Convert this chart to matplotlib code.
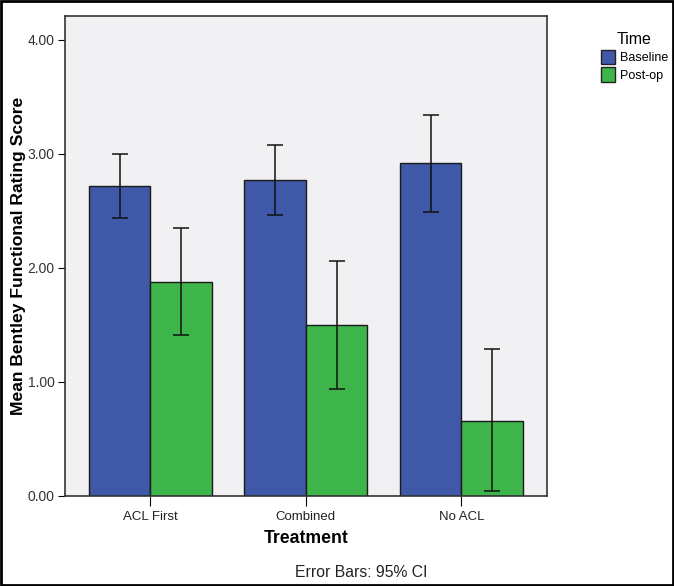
import numpy as np
import matplotlib.pyplot as plt
from matplotlib.patches import Patch, Rectangle

plt.rcParams['font.family'] = ['Liberation Sans', 'DejaVu Sans']

treatments = ["ACL First", "Combined", "No ACL"]
baseline = [2.72, 2.77, 2.92]
baseline_lo = [2.44, 2.46, 2.49]
baseline_hi = [3.00, 3.08, 3.34]
postop = [1.88, 1.50, 0.66]
postop_lo = [1.41, 0.94, 0.04]
postop_hi = [2.35, 2.06, 1.29]

blue = "#3f58a7"
green = "#3db54a"

fig = plt.figure(figsize=(6.74, 5.86), dpi=100)
ax = fig.add_axes([0.0957, 0.1536, 0.7159, 0.8196])
ax.set_facecolor("#f1f1f3")

x = np.arange(len(treatments))
w = 0.395
bl = np.array(baseline)
po = np.array(postop)
ax.bar(x - w / 2, bl, w, color=blue, edgecolor="#1a1a1a", linewidth=1, zorder=2)
ax.bar(x + w / 2, po, w, color=green, edgecolor="#1a1a1a", linewidth=1, zorder=2)
ax.errorbar(x - w / 2, bl, yerr=[bl - np.array(baseline_lo), np.array(baseline_hi) - bl],
            fmt="none", ecolor="#111111", elinewidth=1.1, capsize=5.5, capthick=1.1, zorder=3)
ax.errorbar(x + w / 2, po, yerr=[po - np.array(postop_lo), np.array(postop_hi) - po],
            fmt="none", ecolor="#111111", elinewidth=1.1, capsize=5.5, capthick=1.1, zorder=3)

ax.set_xlim(-0.552, 2.55)
ax.set_ylim(0, 4.21)
ax.set_yticks([0, 1, 2, 3, 4])
ax.set_yticklabels(["0.00", "1.00", "2.00", "3.00", "4.00"], fontsize=10, color="#333333")
ax.set_xticks(x)
ax.set_xticklabels(treatments, fontsize=9.5, color="#222222")
ax.tick_params(axis="y", length=5, width=0.8, pad=2)
ax.tick_params(axis="x", length=7, width=0.8)
for s in ax.spines.values():
    s.set_color("#333333")
    s.set_linewidth(1.2)

ax.set_ylabel("Mean Bentley Functional Rating Score", fontsize=12.6, fontweight="bold", labelpad=1)
ax.set_xlabel("Treatment", fontsize=12.7, fontweight="bold", labelpad=5)

fig.text(0.536, 0.011, "Error Bars: 95% CI", ha="center", va="bottom", fontsize=11.3, color="#222222")

handles = [Patch(facecolor=blue, edgecolor="#222222"), Patch(facecolor=green, edgecolor="#222222")]
leg = fig.legend(handles, ["Baseline", "Post-op"], title="Time", loc="upper left",
                 bbox_to_anchor=(0.875, 0.965), frameon=False, fontsize=9,
                 title_fontsize=11.5, handlelength=1.1, handleheight=1.4,
                 handletextpad=0.4, labelspacing=0.25)

fig.patches.append(Rectangle((0.002, 0.002), 0.996, 0.996, transform=fig.transFigure,
                             fill=False, edgecolor="black", linewidth=2))

fig.savefig("out.png", dpi=100)
